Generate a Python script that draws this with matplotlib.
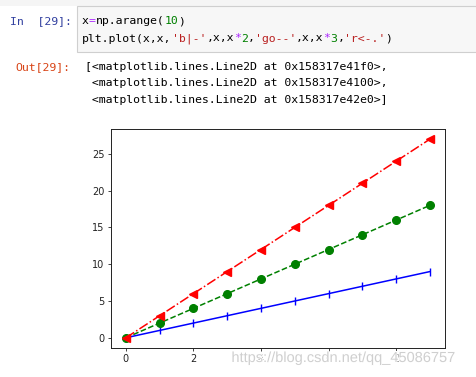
import matplotlib
matplotlib.use("Agg")
import matplotlib.pyplot as plt
import matplotlib.patheffects as pe
from matplotlib.patches import Rectangle

x_vals = [0, 1, 2, 3, 4, 5, 6, 7, 8, 9]
y_blue = [0, 1, 2, 3, 4, 5, 6, 7, 8, 9]
y_green = [0, 2, 4, 6, 8, 10, 12, 14, 16, 18]
y_red = [0, 3, 6, 9, 12, 15, 18, 21, 24, 27]
x_ticks = [0, 2, 4, 6, 8]
y_ticks = [0, 5, 10, 15, 20, 25]

W, H = 476, 377
fig = plt.figure(figsize=(W / 100, H / 100), dpi=100)

# notebook cell background
fig.patches.append(Rectangle((0, (H - 6) / H), 1, 6 / H, transform=fig.transFigure,
                             facecolor="#f5f5f5", edgecolor="none"))
fig.patches.append(Rectangle((77 / W, (H - 52) / H), (W - 77 + 5) / W, 46 / H,
                             transform=fig.transFigure, facecolor="#f7f7f7",
                             edgecolor="#cfcfcf", linewidth=0.8))

MONO = "DejaVu Sans Mono"
FS = 8.25
CW = 6.9  # char width in px

BLACK = "#000000"
PURPLE = "#AA22FF"
GREEN = "#008000"
RED = "#BA2121"


def put_tokens(x0, ycenter, tokens):
    idx = 0
    for s, c in tokens:
        fig.text((x0 + idx * CW) / W, (H - ycenter) / H, s, color=c, family=MONO,
                 fontsize=FS, va="center", ha="left")
        idx += len(s)


fig.text(10 / W, (H - 21) / H, "In  [29]:", color="#303F9F", family=MONO,
         fontsize=FS, va="center", ha="left")
put_tokens(82, 21, [("x", BLACK), ("=", PURPLE), ("np.arange(", BLACK), ("10", GREEN), (")", BLACK)])
put_tokens(82, 38.5, [("plt.plot(x,x,", BLACK), ("'b|-'", RED), (",x,x", BLACK), ("*", PURPLE),
                      ("2", GREEN), (",", BLACK), ("'go--'", RED), (",x,x", BLACK), ("*", PURPLE),
                      ("3", GREEN), (",", BLACK), ("'r<-.'", RED), (")", BLACK)])

fig.text(15 / W, (H - 67) / H, "Out[29]:", color="#D84315", family=MONO,
         fontsize=FS, va="center", ha="left")
out_lines = ["[<matplotlib.lines.Line2D at 0x158317e41f0>,",
             " <matplotlib.lines.Line2D at 0x158317e4100>,",
             " <matplotlib.lines.Line2D at 0x158317e42e0>]"]
for i, line in enumerate(out_lines):
    fig.text(85 / W, (H - (67 + 16.5 * i)) / H, line, color=BLACK, family=MONO,
             fontsize=FS, va="center", ha="left")

# plot axes
left, right, top, bottom = 110.7, 445.0, 129.3, 347.7
ax = fig.add_axes([left / W, (H - bottom) / H, (right - left) / W, (bottom - top) / H])
ax.plot(x_vals, y_blue, 'b|-', x_vals, y_green, 'go--', x_vals, y_red, 'r<-.',
        linewidth=1.1, markersize=5.5)
ax.set_xticks(x_ticks)
ax.set_yticks(y_ticks)
ax.tick_params(labelsize=7, length=2.5, width=0.6, pad=2, colors="#222222")
for sp in ax.spines.values():
    sp.set_linewidth(0.7)
    sp.set_color("#222222")

# watermark
fig.text(344 / W, (H - 358) / H, "https://blog.csdn.net/qq_45086757", color="#cfcfcf",
         family="Liberation Sans", fontsize=10.5, ha="center", va="center",
         path_effects=[pe.withStroke(linewidth=1.5, foreground="white")])

fig.savefig("out.png", dpi=100)
